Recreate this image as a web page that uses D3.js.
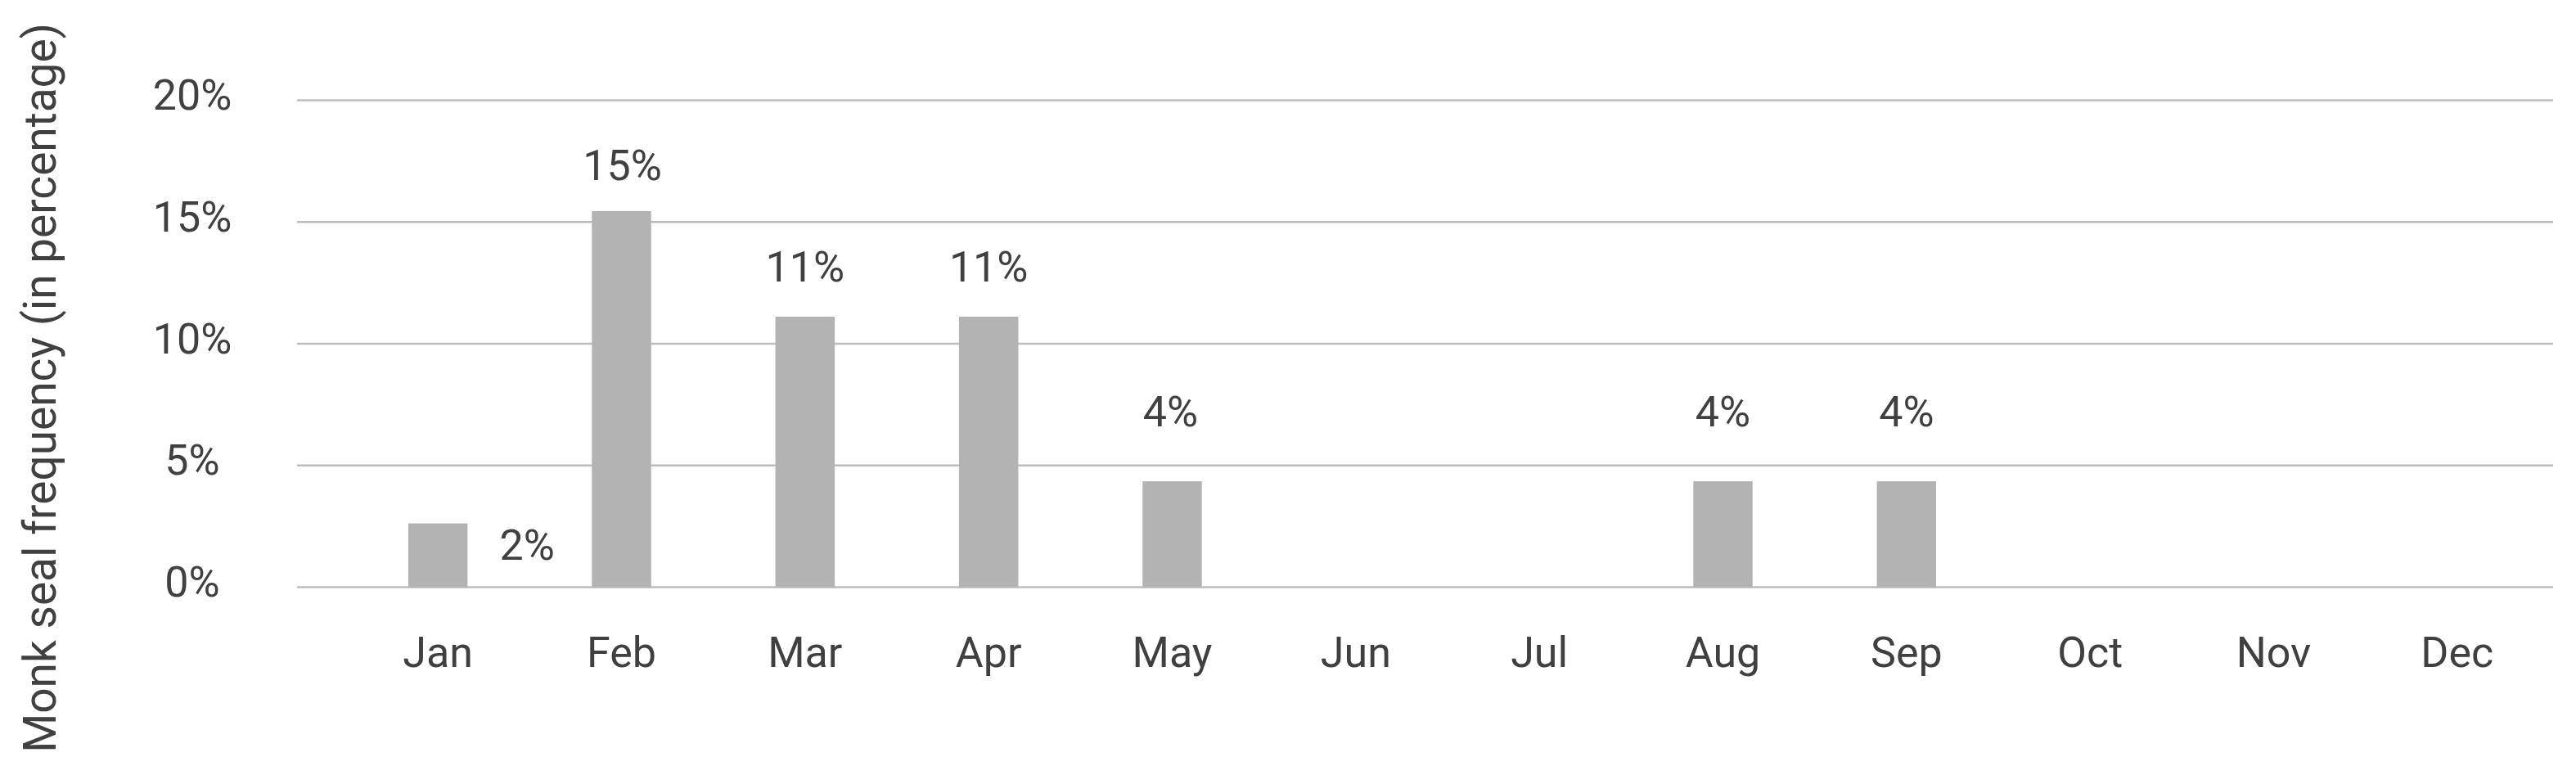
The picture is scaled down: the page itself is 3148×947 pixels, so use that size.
<!DOCTYPE html>
<html>
<head>
<meta charset="utf-8">
<script src="https://cdn.jsdelivr.net/npm/d3@7"></script>
<style>
  html, body { margin: 0; padding: 0; background: #ffffff; }
  svg { display: block; }
  text { font-family: Roboto, "Noto Sans", sans-serif; fill: #404040; }
</style>
</head>
<body>
<svg id="chart" width="3148" height="947"></svg>
<script>
// ---- data ----
const months = ["Jan", "Feb", "Mar", "Apr", "May", "Jun", "Jul", "Aug", "Sep", "Oct", "Nov", "Dec"];
const frequency = [2.62, 15.45, 11.11, 11.11, 4.35, 0, 0, 4.35, 4.35, 0, 0, 0];
const valueLabels = ["2%", "15%", "11%", "11%", "4%", null, null, "4%", "4%", null, null, null];
const yTicks = [0, 5, 10, 15, 20];
const yTitle = "Monk seal frequency (in percentage)";

// ---- label layout (pixel offsets from bar top-centre) ----
const labelDx = [109, 1, 0, 0, -2, 0, 0, 0, 0, 0, 0, 0];
const labelDy = [44, -38, -43, -43, -67, 0, 0, -67, -67, 0, 0, 0];

// ---- layout ----
const W = 3148, H = 947;
const gridLeft = 363, gridRight = 3120;
const plotTop = 122.5, plotBottom = 717.5;

const svg = d3.select("#chart");

const x = d3.scaleBand()
  .domain(months)
  .range([423, 3115])
  .paddingInner(0.677)
  .paddingOuter(0.3385);

const y = d3.scaleLinear()
  .domain([0, 20])
  .range([plotBottom, plotTop]);

// gridlines
svg.append("g")
  .selectAll("line")
  .data(yTicks)
  .join("line")
  .attr("x1", gridLeft)
  .attr("x2", gridRight)
  .attr("y1", d => y(d))
  .attr("y2", d => y(d))
  .attr("stroke", "#bcbcbc")
  .attr("stroke-width", 2.5);

// y tick labels
svg.append("g")
  .selectAll("text")
  .data(yTicks)
  .join("text")
  .attr("x", 235)
  .attr("y", d => y(d) + 11.5)
  .attr("text-anchor", "middle")
  .attr("font-size", 52)
  .text(d => d + "%");

// bars
const data = months.map((m, i) => ({ m, v: frequency[i], label: valueLabels[i], dx: labelDx[i], dy: labelDy[i] }));

svg.append("g")
  .selectAll("rect")
  .data(data.filter(d => d.v > 0))
  .join("rect")
  .attr("x", d => x(d.m))
  .attr("width", x.bandwidth())
  .attr("y", d => y(d.v))
  .attr("height", d => y(0) - y(d.v))
  .attr("fill", "#b3b3b3");

// value labels
svg.append("g")
  .selectAll("text")
  .data(data.filter(d => d.label))
  .join("text")
  .attr("x", d => x(d.m) + x.bandwidth() / 2 + d.dx)
  .attr("y", d => y(d.v) + d.dy)
  .attr("text-anchor", "middle")
  .attr("font-size", 52)
  .text(d => d.label);

// x axis labels
svg.append("g")
  .selectAll("text")
  .data(months)
  .join("text")
  .attr("x", d => x(d) + x.bandwidth() / 2)
  .attr("y", 815)
  .attr("text-anchor", "middle")
  .attr("font-size", 52)
  .text(d => d);

// y axis title
svg.append("text")
  .attr("transform", "translate(68,474) rotate(-90)")
  .attr("text-anchor", "middle")
  .attr("font-size", 55)
  .text(yTitle);
</script>
</body>
</html>
